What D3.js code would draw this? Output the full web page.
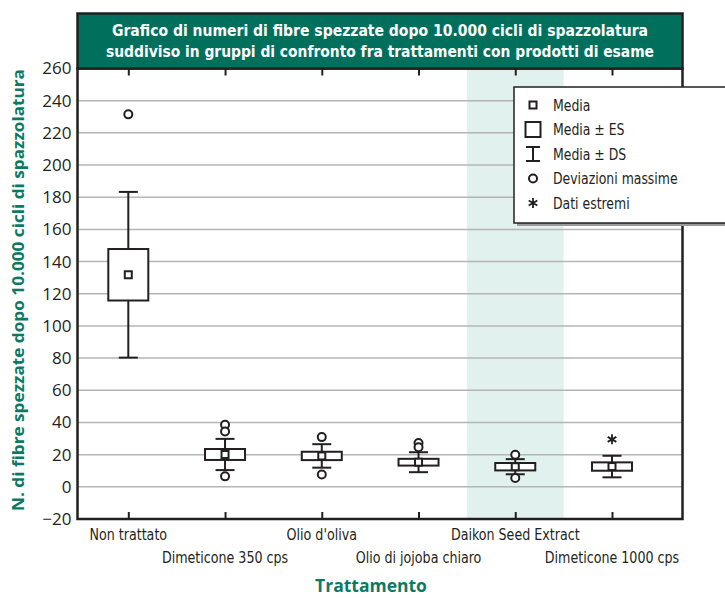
<!DOCTYPE html>
<html>
<head>
<meta http-equiv="Content-Type" content="text/html; charset=utf-8">
<script src="https://cdnjs.cloudflare.com/ajax/libs/d3/7.8.5/d3.min.js"></script>
<style>
  body { margin: 0; background: #fff; }
  svg { display: block; }
  .narrow { font-family: 'DejaVu Sans', sans-serif; font-stretch: condensed; }
</style>
</head>
<body>
<div id="chart"></div>
<script type="text/javascript">

// ---------------------------------------------- DATA
var categories = ["Non trattato", "Dimeticone 350 cps", "Olio d'oliva",
                  "Olio di jojoba chiaro", "Daikon Seed Extract", "Dimeticone 1000 cps"];
var means = [131.8, 20.1, 19.2, 15.3, 12.5, 12.6];
var se    = [16.0, 3.4, 2.6, 2.1, 2.3, 2.6];
var sd    = [51.5, 9.7, 7.3, 6.2, 4.7, 6.7];
var outliers = [[231.5], [38.6, 34.4, 6.5], [30.9, 7.7], [27.2, 24.6], [19.9, 5.5], []];
var extremes = [[], [], [], [], [], [29.5]];
var yTicks = [-20, 0, 20, 40, 60, 80, 100, 120, 140, 160, 180, 200, 220, 240, 260];
var highlighted = "Daikon Seed Extract";
var legendItems = ["Media", "Media \u00b1 ES", "Media \u00b1 DS", "Deviazioni massime", "Dati estremi"];

var titleLines = ["Grafico di numeri di fibre spezzate dopo 10.000 cicli di spazzolatura",
                  "suddiviso in gruppi di confronto fra trattamenti con prodotti di esame"];
var yTitle = "N. di fibre spezzate dopo 10.000 cicli di spazzolatura";
var xTitle = "Trattamento";

// ---------------------------------------------- SVG
var width = 725, height = 598;
var pLeft = 77.5, pRight = 682.5, pTop = 68.5, pBottom = 519;
var ink = "#231f20", green = "#00705d", teal = "#0b7a63";

var svg = d3.select("#chart").append("svg")
  .attr("width", width)
  .attr("height", height);

// squeeze a text horizontally to look like a condensed face
function squeeze(sel, k) {
  sel.each(function() {
    var len = this.getComputedTextLength();
    d3.select(this).attr("textLength", len * k).attr("lengthAdjust", "spacingAndGlyphs");
  });
}

var x = d3.scalePoint().domain(categories).range([128.3, 612]);
var y = d3.scaleLinear().domain([-20, 260]).range([pBottom, pTop]);
var step = x.step();

// highlighted column
svg.append("rect")
  .attr("x", x(highlighted) - step / 2)
  .attr("y", pTop)
  .attr("width", step)
  .attr("height", pBottom - pTop)
  .attr("fill", "#e1f1ed");

// gridlines
svg.append("g").selectAll("line")
  .data(yTicks)
  .enter().append("line")
  .attr("x1", pLeft).attr("x2", pRight)
  .attr("y1", d => y(d)).attr("y2", d => y(d))
  .attr("stroke", "#b5b5b5")
  .attr("stroke-width", 1.5);

// y axis labels
var yAxis = svg.append("g")
  .attr("transform", "translate(" + pLeft + ",0)")
  .call(d3.axisLeft(y).tickValues(yTicks).tickSize(0).tickPadding(6).tickFormat(d3.format("d")));
yAxis.select(".domain").remove();
yAxis.selectAll("text")
  .attr("font-family", "'Open Sans', sans-serif")
  .attr("font-size", 17)
  .attr("fill", ink);

// x axis ticks bottom and top, pointing inside
var xAxis = svg.append("g")
  .attr("transform", "translate(0," + pBottom + ")")
  .call(d3.axisBottom(x).tickSize(-7).tickFormat(""));
xAxis.select(".domain").remove();
xAxis.selectAll("line").attr("stroke", ink).attr("stroke-width", 2);

var xAxisTop = svg.append("g")
  .attr("transform", "translate(0," + pTop + ")")
  .call(d3.axisTop(x).tickSize(-7).tickFormat(""));
xAxisTop.select(".domain").remove();
xAxisTop.selectAll("line").attr("stroke", ink).attr("stroke-width", 2);

// category labels, staggered in two rows
svg.append("g").selectAll("text")
  .data(categories)
  .enter().append("text")
  .attr("class", "narrow")
  .attr("x", d => x(d))
  .attr("y", (d, i) => i % 2 === 0 ? 540 : 563)
  .attr("text-anchor", "middle")
  .attr("font-size", 16)
  .attr("fill", ink)
  .text(d => d)
  .call(squeeze, 0.88);

// frame
svg.append("rect")
  .attr("x", pLeft).attr("y", pTop)
  .attr("width", pRight - pLeft).attr("height", pBottom - pTop)
  .attr("fill", "none")
  .attr("stroke", ink)
  .attr("stroke-width", 2.5);

// ---------------------------------------------- BOXES
var boxW = 40, capW = 19, meanS = 7;
var rows = categories.map((c, i) => ({
  cat: c, mean: means[i], se: se[i], sd: sd[i], out: outliers[i], ext: extremes[i]
}));

var groups = svg.append("g").selectAll("g")
  .data(rows)
  .enter().append("g")
  .attr("transform", d => "translate(" + x(d.cat) + ",0)");

groups.append("line")
  .attr("x1", 0).attr("x2", 0)
  .attr("y1", d => y(d.mean + d.sd)).attr("y2", d => y(d.mean - d.sd))
  .attr("stroke", ink).attr("stroke-width", 2);

groups.selectAll("line.cap")
  .data(d => [d.mean + d.sd, d.mean - d.sd])
  .enter().append("line")
  .attr("class", "cap")
  .attr("x1", -capW / 2).attr("x2", capW / 2)
  .attr("y1", v => y(v)).attr("y2", v => y(v))
  .attr("stroke", ink).attr("stroke-width", 2);

groups.append("rect")
  .attr("x", -boxW / 2)
  .attr("y", d => y(d.mean + d.se))
  .attr("width", boxW)
  .attr("height", d => y(d.mean - d.se) - y(d.mean + d.se))
  .attr("fill", "#fff")
  .attr("stroke", ink).attr("stroke-width", 2);

groups.append("rect")
  .attr("x", -meanS / 2)
  .attr("y", d => y(d.mean) - meanS / 2)
  .attr("width", meanS).attr("height", meanS)
  .attr("fill", "#fff")
  .attr("stroke", ink).attr("stroke-width", 2);

groups.selectAll("circle")
  .data(d => d.out)
  .enter().append("circle")
  .attr("cx", 0).attr("cy", v => y(v))
  .attr("r", 4)
  .attr("fill", "#fff")
  .attr("stroke", ink).attr("stroke-width", 2);

function star(sel) {
  sel.append("path")
    .attr("d", "M0,-5V5M-4.3,-2.5L4.3,2.5M-4.3,2.5L4.3,-2.5")
    .attr("stroke", ink).attr("stroke-width", 1.8).attr("fill", "none");
}
groups.selectAll("g.ext")
  .data(d => d.ext)
  .enter().append("g")
  .attr("class", "ext")
  .attr("transform", v => "translate(0," + y(v) + ")")
  .call(star);

// ---------------------------------------------- TITLE
svg.append("rect")
  .attr("x", pLeft).attr("y", 13.5)
  .attr("width", pRight - pLeft).attr("height", pTop - 13.5)
  .attr("fill", green)
  .attr("stroke", ink).attr("stroke-width", 2.5);

svg.selectAll("text.title")
  .data(titleLines)
  .enter().append("text")
  .attr("class", "title narrow")
  .attr("x", (pLeft + pRight) / 2)
  .attr("y", (d, i) => 36 + i * 21)
  .attr("text-anchor", "middle")
  .attr("font-weight", "bold")
  .attr("font-size", 16)
  .attr("fill", "#fff")
  .attr("textLength", (d, i) => i === 0 ? 536 : 548)
  .attr("lengthAdjust", "spacingAndGlyphs")
  .text(d => d);

// axis titles
svg.append("text")
  .attr("transform", "translate(24,290) rotate(-90)")
  .attr("text-anchor", "middle")
  .attr("font-family", "'Open Sans', sans-serif")
  .attr("font-weight", "bold")
  .attr("font-size", 15.5)
  .attr("fill", teal)
  .attr("textLength", 442)
  .attr("lengthAdjust", "spacingAndGlyphs")
  .text(yTitle);

svg.append("text")
  .attr("x", 371)
  .attr("y", 592)
  .attr("text-anchor", "middle")
  .attr("font-family", "'Open Sans', sans-serif")
  .attr("font-weight", "bold")
  .attr("font-size", 17.5)
  .attr("fill", teal)
  .text(xTitle);

// ---------------------------------------------- LEGEND
var lg = svg.append("g").attr("transform", "translate(514,87)");
lg.append("rect")
  .attr("x", 3).attr("y", 3).attr("width", 240).attr("height", 136)
  .attr("fill", "#9a9a9a");
lg.append("rect")
  .attr("x", 0).attr("y", 0).attr("width", 240).attr("height", 136)
  .attr("fill", "#fff")
  .attr("stroke", ink).attr("stroke-width", 1.5);

var items = lg.selectAll("g.item")
  .data(legendItems)
  .enter().append("g")
  .attr("class", "item")
  .attr("transform", (d, i) => "translate(19," + (18 + i * 24.5) + ")");

items.append("text")
  .attr("class", "narrow")
  .attr("x", 20)
  .attr("dy", "0.35em")
  .attr("font-size", 16)
  .attr("fill", ink)
  .text(d => d)
  .call(squeeze, 0.865);

items.each(function(d, i) {
  var g = d3.select(this);
  if (i === 0) {
    g.append("rect").attr("x", -3.5).attr("y", -3.5).attr("width", 7).attr("height", 7)
      .attr("fill", "none").attr("stroke", ink).attr("stroke-width", 2);
  } else if (i === 1) {
    g.append("rect").attr("x", -7.5).attr("y", -7.5).attr("width", 15).attr("height", 15)
      .attr("fill", "none").attr("stroke", ink).attr("stroke-width", 2);
  } else if (i === 2) {
    g.append("path").attr("d", "M-7,-7H7M0,-7V7M-7,7H7")
      .attr("fill", "none").attr("stroke", ink).attr("stroke-width", 2);
  } else if (i === 3) {
    g.append("circle").attr("r", 4)
      .attr("fill", "none").attr("stroke", ink).attr("stroke-width", 2);
  } else {
    g.call(star);
  }
});

</script>
</body>
</html>
